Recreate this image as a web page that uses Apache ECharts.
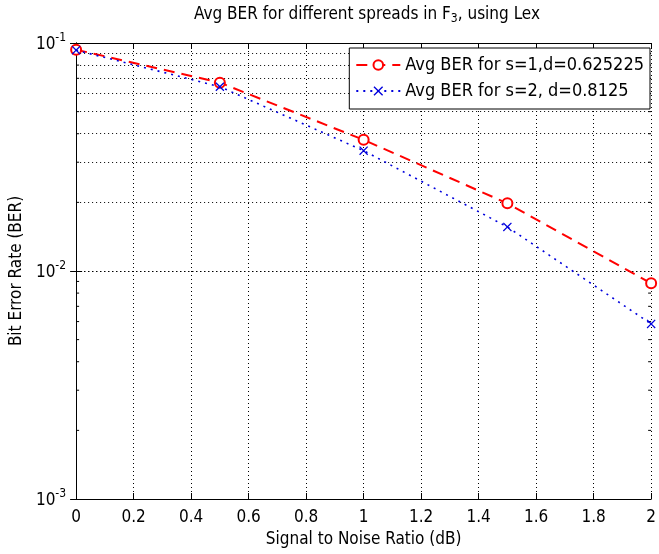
<!DOCTYPE html>
<html>
<head>
<meta charset="utf-8">
<script src="https://cdn.jsdelivr.net/npm/echarts@6/dist/echarts.min.js"></script>
<style>
html,body{margin:0;padding:0;background:#fff;}
#chart{width:659px;height:554px;}
</style>
</head>
<body>
<div id="chart"></div>
<script>
var snr = [0, 0.5, 1, 1.5, 2];
var berS1 = [0.0935, 0.0670, 0.0376, 0.0198, 0.00883];
var berS2 = [0.0930, 0.0643, 0.0337, 0.0156, 0.00586];
var seriesNames = ['Avg BER for s=1,d=0.625225', 'Avg BER for s=2, d=0.8125'];
var xTicks = [0, 0.2, 0.4, 0.6, 0.8, 1, 1.2, 1.4, 1.6, 1.8, 2];
var yMinorGrid = [0.002,0.003,0.004,0.005,0.006,0.007,0.008,0.009,
                  0.02,0.03,0.04,0.05,0.06,0.07,0.08,0.09];

var FONT = '"DejaVu Sans Condensed", "Liberation Sans Narrow", "Liberation Sans", Arial, sans-serif';
var chart = echarts.init(document.getElementById('chart'), null, {renderer: 'canvas'});

function pairs(xs, ys){ return xs.map(function(x,i){ return [x, ys[i]]; }); }
var xMark = 'path://M0,1 L1,0 L5,4 L9,0 L10,1 L6,5 L10,9 L9,10 L5,6 L1,10 L0,9 L4,5 Z';

var dotted = {color: '#000', width: 1, type: [1, 3]};

var option = {
  backgroundColor: '#fff',
  animation: false,
  title: {
    text: '{t|Avg BER for different spreads in F}{sub|3}{t|, using Lex}',
    left: 362, top: -1, textAlign: 'center',
    textStyle: {
      fontWeight: 'normal',
      rich: {
        t: {fontFamily: FONT, fontSize: 17, fontWeight: 'normal', color: '#000'},
        sub: {fontFamily: FONT, fontSize: 12, fontWeight: 'normal', color: '#000', padding: [9,0,0,0]}
      }
    }
  },
  grid: {left: 76, right: 3, top: 43, bottom: 55, containLabel: false},
  legend: {
    orient: 'vertical',
    right: 9, top: 48,
    backgroundColor: '#fff',
    borderColor: '#000', borderWidth: 1, borderRadius: 0,
    padding: [8, 6, 9, 6],
    itemGap: 8,
    itemWidth: 44, itemHeight: 12,
    textStyle: {fontFamily: FONT, fontSize: 18, color: '#000'},
    data: seriesNames
  },
  xAxis: [{
    type: 'value', min: 0, max: 2, interval: 0.2,
    name: 'Signal to Noise Ratio (dB)', nameLocation: 'middle', nameGap: 32,
    nameTextStyle: {fontFamily: FONT, fontSize: 17, color: '#000'},
    axisLine: {lineStyle: {color: '#000', width: 1}},
    axisTick: {inside: true, length: 6, lineStyle: {color: '#000'}},
    axisLabel: {fontFamily: FONT, fontSize: 17, color: '#000', margin: 10,
      formatter: function(v){ return String(Math.round(v*10)/10); }},
    splitLine: {show: true, lineStyle: dotted}
  },{
    type: 'value', min: 0, max: 2, interval: 0.2, position: 'top',
    axisLine: {show: true, lineStyle: {color: '#000', width: 1}},
    axisTick: {inside: true, length: 6, lineStyle: {color: '#000'}},
    axisLabel: {show: false}, splitLine: {show: false}
  }],
  yAxis: [{
    type: 'log', logBase: 10, min: 0.001, max: 0.1,
    name: 'Bit Error Rate (BER)', nameLocation: 'middle', nameGap: 41,
    nameTextStyle: {fontFamily: FONT, fontSize: 17, color: '#000'},
    axisLine: {show: true, lineStyle: {color: '#000', width: 1}},
    axisTick: {show: true, inside: true, length: 6, lineStyle: {color: '#000'}},
    axisLabel: {
      margin: 10,
      formatter: function(v){
        var e = Math.round(Math.log(v)/Math.LN10);
        return '{b|10}{s|' + e + '}';
      },
      rich: {
        b: {fontFamily: FONT, fontSize: 17, color: '#000', padding: [4,0,0,0]},
        s: {fontFamily: FONT, fontSize: 12, color: '#000', padding: [0,0,10,0]}
      }
    },
    splitLine: {show: true, lineStyle: dotted}
  },{
    type: 'log', logBase: 10, min: 0.001, max: 0.1, position: 'right',
    axisLine: {show: true, lineStyle: {color: '#000', width: 1}},
    axisTick: {show: true, inside: true, length: 6, lineStyle: {color: '#000'}},
    axisLabel: {show: false}, splitLine: {show: false}
  }],
  series: [{
    name: seriesNames[0], type: 'line',
    data: pairs(snr, berS1),
    symbol: 'emptyCircle', symbolSize: 10, showAllSymbol: true,
    itemStyle: {color: '#ff0000', borderColor: '#ff0000', borderWidth: 2},
    lineStyle: {color: '#ff0000', width: 2, type: [11, 7]},
    z: 3,
    markLine: {
      silent: true, symbol: 'none', animation: false,
      label: {show: false},
      lineStyle: {color: '#000', width: 1, type: [1, 3]},
      data: yMinorGrid.map(function(v){ return {yAxis: v}; }),
      z: 1
    }
  },{
    name: seriesNames[1], type: 'line',
    data: pairs(snr, berS2),
    symbol: xMark, symbolSize: 9, showAllSymbol: true,
    itemStyle: {color: '#0000dd'},
    lineStyle: {color: '#0000dd', width: 1.6, type: [2, 5]},
    z: 4
  },{
    name: 'minorTicks', type: 'custom', silent: true, z: 2,
    data: yMinorGrid.map(function(v){ return [0, v]; }),
    renderItem: function(params, api){
      var l = api.coord([0, api.value(1)]);
      var r = api.coord([2, api.value(1)]);
      var st = {stroke: '#000', lineWidth: 1};
      return {type: 'group', children: [
        {type: 'line', shape: {x1: l[0], y1: l[1], x2: l[0] + 3, y2: l[1]}, style: st},
        {type: 'line', shape: {x1: r[0], y1: r[1], x2: r[0] - 3, y2: r[1]}, style: st}
      ]};
    }
  }]
};
chart.setOption(option);
</script>
</body>
</html>
